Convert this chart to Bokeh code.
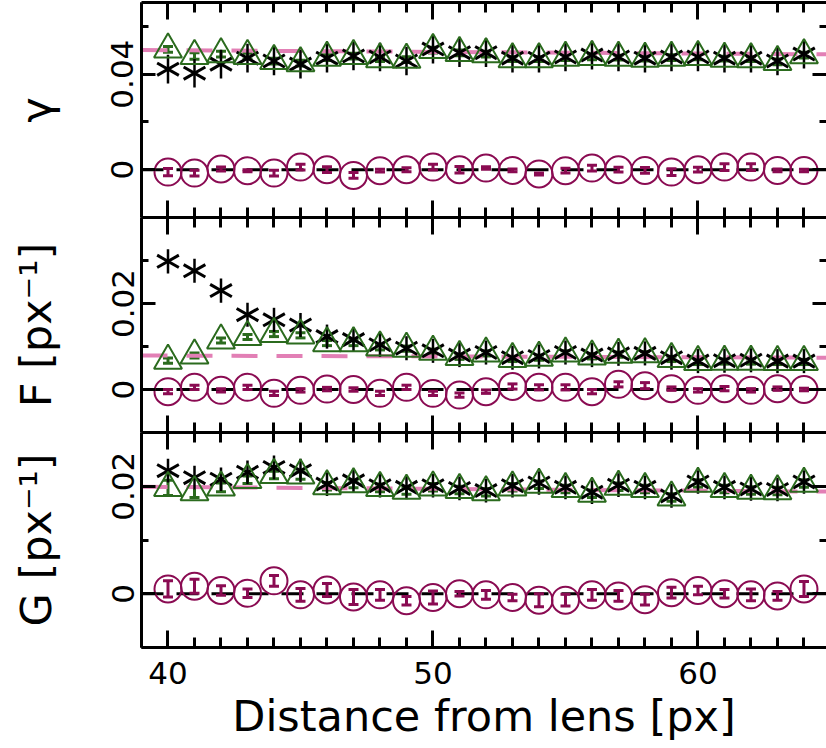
from bokeh.plotting import figure
from bokeh.models import (Range1d, LinearAxis, FixedTicker, Span, Whisker, TeeHead,
                          ColumnDataSource, CustomLabelingPolicy)
from bokeh.layouts import column
from bokeh.embed import file_html
from bokeh.resources import INLINE

# ---------------- data ----------------
distance = list(range(40, 65))

gamma_black = [0.0421, 0.0404, 0.0442, 0.0467, 0.0455, 0.0442, 0.0467, 0.0476, 0.0472, 0.0455,
               0.0505, 0.0490, 0.0490, 0.0467, 0.0467, 0.0472, 0.0480, 0.0472, 0.0467, 0.0472,
               0.0472, 0.0467, 0.0467, 0.0455, 0.0484]
gamma_black_err = [0.006] * 25
gamma_green = [0.0504, 0.0476, 0.0484, 0.0476, 0.0455, 0.0446, 0.0469, 0.0476, 0.0463, 0.0461,
               0.0501, 0.0489, 0.0484, 0.0463, 0.0463, 0.0469, 0.0472, 0.0469, 0.0465, 0.0469,
               0.0472, 0.0465, 0.0463, 0.0451, 0.0480]
gamma_green_err = [0.0012, 0.0014, 0.0012, 0.0012, 0.0012, 0.0012, 0.0012, 0.0012, 0.0010, 0.0012,
                   0.0012, 0.0012, 0.0012, 0.0010, 0.0010, 0.0012, 0.0012, 0.0010, 0.0010, 0.0012,
                   0.0012, 0.0010, 0.0010, 0.0012, 0.0012]
gamma_purple = [-0.0010, -0.0014, 0.0003, -0.0004, -0.0014, 0.0011, 0.0000, -0.0024, -0.0004, 0.0000,
                0.0011, 0.0000, 0.0007, -0.0003, -0.0018, -0.0004, 0.0007, 0.0000, -0.0003, -0.0010,
                0.0000, 0.0011, 0.0011, -0.0003, -0.0003]
gamma_purple_err = [0.0015, 0.0012, 0.0008, 0.0004, 0.0012, 0.0012, 0.0012, 0.0012, 0.0006, 0.0008,
                    0.0012, 0.0014, 0.0005, 0.0006, 0.0004, 0.0010, 0.0012, 0.0010, 0.0012, 0.0014,
                    0.0010, 0.0014, 0.0014, 0.0006, 0.0005]

F_black = [0.0298, 0.0276, 0.0230, 0.0174, 0.0162, 0.0150, 0.0123, 0.0116, 0.0104, 0.0096,
           0.0090, 0.0080, 0.0086, 0.0074, 0.0077, 0.0086, 0.0080, 0.0083, 0.0084, 0.0074,
           0.0066, 0.0067, 0.0068, 0.0066, 0.0066]
F_black_err = [0.0028] * 25
F_green = [0.0067, 0.0079, 0.0114, 0.0122, 0.0129, 0.0126, 0.0108, 0.0108, 0.0098, 0.0095,
           0.0088, 0.0076, 0.0084, 0.0071, 0.0074, 0.0084, 0.0077, 0.0081, 0.0082, 0.0071,
           0.0064, 0.0065, 0.0065, 0.0064, 0.0064]
F_green_err = [0.0006] * 25
F_purple = [-0.0005, 0.0005, -0.0002, 0.0005, -0.0009, -0.0002, 0.0001, 0.0000, -0.0009, 0.0005,
            -0.0009, -0.0013, -0.0005, 0.0007, 0.0005, 0.0005, -0.0005, 0.0012, 0.0009, 0.0002,
            -0.0002, 0.0002, -0.0002, 0.0002, 0.0000]
F_purple_err = [0.0005, 0.0005, 0.0004, 0.0005, 0.0005, 0.0004, 0.0004, 0.0004, 0.0005, 0.0005,
                0.0005, 0.0005, 0.0004, 0.0006, 0.0006, 0.0006, 0.0005, 0.0006, 0.0007, 0.0004,
                0.0004, 0.0005, 0.0004, 0.0004, 0.0003]

G_black = [0.0229, 0.0216, 0.0213, 0.0226, 0.0235, 0.0229, 0.0204, 0.0210, 0.0201, 0.0198,
           0.0201, 0.0196, 0.0192, 0.0201, 0.0206, 0.0198, 0.0189, 0.0202, 0.0198, 0.0182,
           0.0208, 0.0198, 0.0195, 0.0194, 0.0208]
G_black_err = [0.0022] * 25
G_green = [0.0197, 0.0189, 0.0198, 0.0212, 0.0221, 0.0220, 0.0200, 0.0204, 0.0197, 0.0192,
           0.0198, 0.0193, 0.0189, 0.0198, 0.0203, 0.0195, 0.0186, 0.0199, 0.0195, 0.0179,
           0.0205, 0.0195, 0.0192, 0.0191, 0.0205]
G_green_err = [0.0014, 0.0010, 0.0008, 0.0007, 0.0007, 0.0007, 0.0007, 0.0007, 0.0007, 0.0007,
               0.0007, 0.0007, 0.0007, 0.0007, 0.0007, 0.0007, 0.0007, 0.0007, 0.0007, 0.0007,
               0.0007, 0.0007, 0.0007, 0.0007, 0.0007]
G_purple = [0.0009, 0.0014, 0.0006, 0.0001, 0.0024, -0.0002, 0.0007, -0.0006, -0.0002, -0.0013,
            -0.0007, 0.0000, -0.0002, -0.0007, -0.0012, -0.0012, -0.0002, -0.0004, -0.0011, 0.0002,
            0.0006, 0.0000, -0.0002, -0.0004, 0.0009]
G_purple_err = [0.0015, 0.0013, 0.0009, 0.0008, 0.0010, 0.0012, 0.0012, 0.0014, 0.0010, 0.0008,
                0.0012, 0.0004, 0.0008, 0.0006, 0.0012, 0.0011, 0.0010, 0.0010, 0.0010, 0.0010,
                0.0008, 0.0008, 0.0011, 0.0008, 0.0014]

model_x = [39, 65]
gamma_model = [0.0501, 0.0483]
F_model = [0.0079, 0.0074]
G_model = [0.0199, 0.0190]

x_major = [40, 50, 60]
x_minor = list(range(39, 66))

# ---------------- style ----------------
GREEN = "#2b6b1e"
PURPLE = "#8a0b52"
PINK = "#e27fb5"
FONT = "DejaVu Sans"

x_range = Range1d(39, 64.85)


def style_axis(ax, maj_in, min_in, labels):
    ax.axis_line_width = 3
    ax.axis_line_color = "black"
    ax.major_tick_in = maj_in
    ax.major_tick_out = 0
    ax.minor_tick_in = min_in
    ax.minor_tick_out = 0
    ax.major_tick_line_width = 3
    ax.minor_tick_line_width = 3
    ax.major_tick_line_color = "black"
    ax.minor_tick_line_color = "black"
    if labels:
        ax.major_label_text_font = FONT
        ax.major_label_text_font_size = "31px"
        ax.major_label_text_color = "black"
    else:
        ax.major_label_text_font_size = "0px"
        ax.major_label_policy = CustomLabelingPolicy(code="return new Set()")
        ax.major_label_standoff = 0


def panel(height, yr, yticks, yminor, ylabel, top_b, bot_b, xlabels,
          black, black_err, green, green_err, purple, purple_err, model):
    p = figure(width=826, height=height, x_range=x_range, y_range=Range1d(*yr),
               output_backend="svg", toolbar_location=None,
               x_axis_location=None, y_axis_location=None,
               min_border_left=141, min_border_right=0,
               min_border_top=top_b, min_border_bottom=bot_b)
    p.grid.visible = False
    p.outline_line_color = None
    p.background_fill_color = "white"
    p.border_fill_color = "white"

    yt = FixedTicker(ticks=yticks, minor_ticks=yminor)
    xt = FixedTicker(ticks=x_major, minor_ticks=x_minor)

    left = LinearAxis(ticker=yt, axis_label=ylabel)
    style_axis(left, 14, 7, True)
    left.major_label_orientation = "vertical"
    left.major_label_standoff = 8
    left.axis_label_text_font = FONT
    left.axis_label_text_font_size = "43px"
    left.axis_label_text_font_style = "normal"
    left.axis_label_text_color = "black"
    left.axis_label_standoff = 48
    p.add_layout(left, "left")

    right = LinearAxis(ticker=yt)
    style_axis(right, 14, 7, False)
    right.axis_line_color = None
    p.add_layout(right, "right")

    top = LinearAxis(ticker=xt)
    style_axis(top, 17, 10, False)
    p.add_layout(top, "above")

    bottom = LinearAxis(ticker=xt)
    if xlabels:
        style_axis(bottom, 17, 10, True)
        bottom.major_label_standoff = 14
        bottom.axis_label = "Distance from lens [px]"
        bottom.axis_label_text_font = FONT
        bottom.axis_label_text_font_size = "43px"
        bottom.axis_label_text_font_style = "normal"
        bottom.axis_label_text_color = "black"
        bottom.axis_label_standoff = 4
    else:
        style_axis(bottom, 17, 10, False)
    p.add_layout(bottom, "below")

    # reference lines
    p.add_layout(Span(location=0, dimension="width", line_color="black", line_width=3,
                      line_dash="22 13", level="underlay"))
    p.line(model_x, model, line_color=PINK, line_width=4, line_dash="26 19")

    # black asterisks with error bars
    src_b = ColumnDataSource(dict(
        x=distance, y=black,
        lo=[v - e for v, e in zip(black, black_err)],
        hi=[v + e for v, e in zip(black, black_err)]))
    p.segment(x0="x", y0="lo", x1="x", y1="hi", source=src_b, line_color="black", line_width=2.5)
    p.scatter("x", "y", source=src_b, marker="dash", size=25, angle=0.52,
              line_color="black", line_width=3)
    p.scatter("x", "y", source=src_b, marker="dash", size=25, angle=-0.52,
              line_color="black", line_width=3)

    # green triangles
    src_g = ColumnDataSource(dict(
        x=distance, y=green,
        lo=[v - e for v, e in zip(green, green_err)],
        hi=[v + e for v, e in zip(green, green_err)]))
    p.add_layout(Whisker(source=src_g, base="x", lower="lo", upper="hi", dimension="height",
                         line_color=GREEN, line_width=3,
                         upper_head=TeeHead(size=10, line_color=GREEN, line_width=3),
                         lower_head=TeeHead(size=10, line_color=GREEN, line_width=3)))
    p.scatter("x", "y", source=src_g, marker="triangle", size=28, fill_color=None,
              line_color=GREEN, line_width=2)

    # purple circles
    src_p = ColumnDataSource(dict(
        x=distance, y=purple,
        lo=[v - e for v, e in zip(purple, purple_err)],
        hi=[v + e for v, e in zip(purple, purple_err)]))
    p.add_layout(Whisker(source=src_p, base="x", lower="lo", upper="hi", dimension="height",
                         line_color=PURPLE, line_width=3,
                         upper_head=TeeHead(size=10, line_color=PURPLE, line_width=3),
                         lower_head=TeeHead(size=10, line_color=PURPLE, line_width=3)))
    p.scatter("x", "y", source=src_p, marker="circle", size=27, fill_color=None,
              line_color=PURPLE, line_width=2)
    return p


p1 = panel(217, (-0.02, 0.07), [0, 0.04], [-0.02, 0.02, 0.06], "γ", 2, 0, False,
           gamma_black, gamma_black_err, gamma_green, gamma_green_err,
           gamma_purple, gamma_purple_err, gamma_model)
p2 = panel(215, (-0.01, 0.04), [0, 0.02], [-0.01, 0.01, 0.03, 0.04], "F [px⁻¹]", 0, 0, False,
           F_black, F_black_err, F_green, F_green_err, F_purple, F_purple_err, F_model)
p3 = panel(316, (-0.01, 0.03), [0, 0.02], [-0.01, 0.01, 0.03], "G [px⁻¹]", 0, 101, True,
           G_black, G_black_err, G_green, G_green_err, G_purple, G_purple_err, G_model)

layout = column(p1, p2, p3, spacing=0)
open("out.html", "w").write(file_html(layout, INLINE))
